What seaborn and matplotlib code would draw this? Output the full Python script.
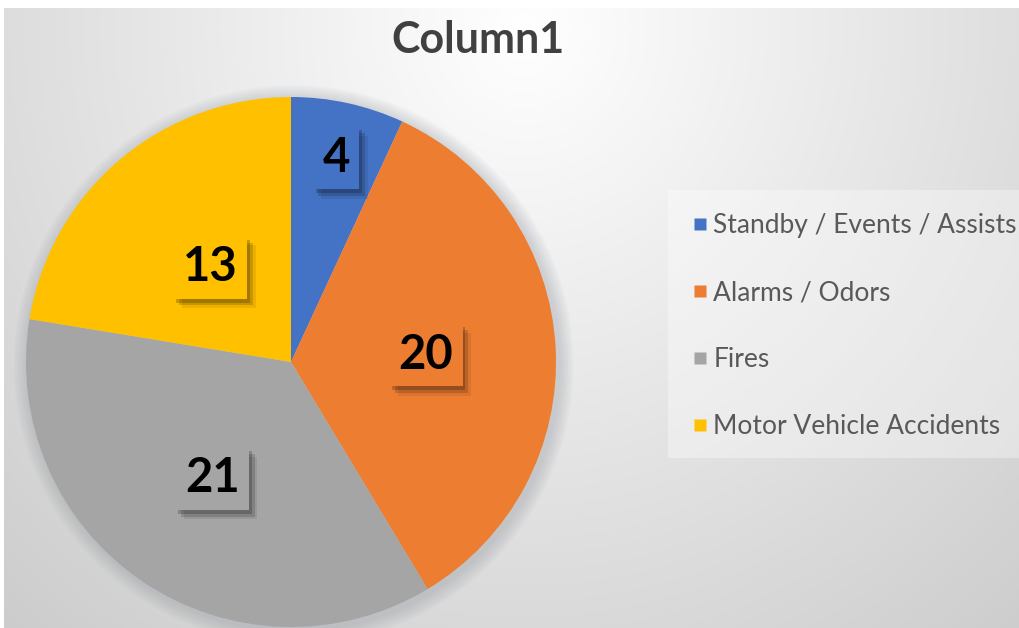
import numpy as np
import matplotlib
matplotlib.use("Agg")
import matplotlib.pyplot as plt
import matplotlib.patheffects as pe
from matplotlib.lines import Line2D
from matplotlib.patches import Rectangle, Circle
import seaborn as sns

# data
categories = ["Standby / Events / Assists", "Alarms / Odors", "Fires", "Motor Vehicle Accidents"]
values = [4, 20, 21, 13]
title = "Column1"

sns.set_theme(style="white")
plt.rcParams["font.family"] = ["Lato", "DejaVu Sans"]
colors = sns.color_palette(["#4472C4", "#ED7D31", "#A5A5A5", "#FFC000"])

W, H = 1019, 628
fig = plt.figure(figsize=(W / 100, H / 100), dpi=100)
fig.patch.set_facecolor("white")

# radial gradient background (chart area has a thin white margin)
bg = fig.add_axes([4 / W, 0, 1 - 4 / W, 1 - 8 / H])
bg.set_axis_off()
yy, xx = np.mgrid[0:620, 0:1015]
d = np.sqrt(((xx - 520) / 1.0) ** 2 + ((yy - 20) / 1.05) ** 2)
g = np.clip(255 - 0.066 * d, 200, 255) / 255.0
bg.imshow(np.dstack([g, g, g]), aspect="auto", extent=[0, 1, 0, 1], origin="upper")
bg.set_xlim(0, 1)
bg.set_ylim(0, 1)

# lighter legend panel
fig.patches.append(Rectangle((668 / W, 1 - 458 / H), (W - 668) / W, 268 / H,
                             transform=fig.transFigure, facecolor="white",
                             alpha=0.35, edgecolor="none", zorder=1))

# pie
ax = fig.add_axes([26 / W, 1 / H, 530 / W, 530 / H])
wedges, _ = ax.pie(values, colors=colors, startangle=90, counterclock=False,
                   wedgeprops=dict(linewidth=0))
for i in range(8, 0, -1):
    ax.add_patch(Circle((0.01, -0.012), 1 + i * 0.007, facecolor="#8a8f99",
                        alpha=0.045, edgecolor="none", zorder=0, clip_on=False))
for w in wedges:
    w.set_zorder(2)
ax.set_xlim(-1, 1)
ax.set_ylim(-1, 1)
ax.set_aspect("equal")
ax.set_axis_off()

# data labels in boxes with a soft drop shadow
label_dist = [0.79, 0.51, 0.53, 0.47]
for w, v, c, r in zip(wedges, values, colors, label_dist):
    ang = np.deg2rad((w.theta1 + w.theta2) / 2)
    t = ax.text(r * np.cos(ang), r * np.sin(ang), str(v), ha="center", va="center",
                fontsize=34, fontweight="bold", color="black", zorder=5,
                bbox=dict(boxstyle="square,pad=0.2", facecolor=c, edgecolor="none"))
    t.get_bbox_patch().set_path_effects([
        pe.SimplePatchShadow(offset=(6, -7), shadow_rgbFace="black", alpha=0.08),
        pe.SimplePatchShadow(offset=(4, -5), shadow_rgbFace="black", alpha=0.15),
        pe.SimplePatchShadow(offset=(2, -3), shadow_rgbFace="black", alpha=0.2),
        pe.Normal()])

fig.text(478 / W, 1 - 40 / H, title, ha="center", va="center", fontsize=31,
         fontweight="bold", color="#404040")

handles = [Line2D([], [], linestyle="none", marker="s", markersize=9,
                  markerfacecolor=c, markeredgecolor="none") for c in colors]
leg = fig.legend(handles, categories, loc="upper left",
                 bbox_to_anchor=(679 / W, 1 - 200 / H), frameon=False,
                 fontsize=19, labelspacing=1.59, handlelength=0.6,
                 handletextpad=0.2, borderpad=0)
for txt in leg.get_texts():
    txt.set_color("#595959")

fig.savefig("out.png", dpi=100)
